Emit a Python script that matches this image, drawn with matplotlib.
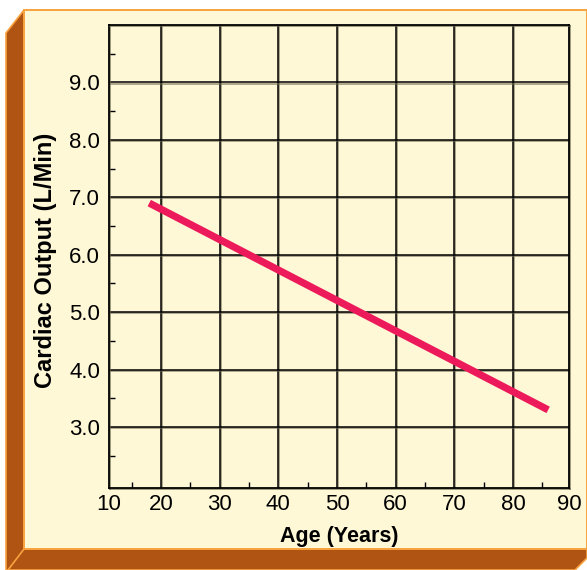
import matplotlib
matplotlib.use("Agg")
import matplotlib.pyplot as plt
from matplotlib.patches import Polygon, Rectangle
from matplotlib.lines import Line2D
import matplotlib.patheffects as pe

# ---- data ----
age = [18, 86]
cardiac_output = [6.9, 3.3]

x_tick_pos = [11.14, 20, 30, 40, 50, 60, 70, 80, 89.55]
x_tick_labels = ["10", "20", "30", "40", "50", "60", "70", "80", "90"]
y_tick_pos = [3, 4, 5, 6, 7, 8, 9]
y_tick_labels = ["3.0", "4.0", "5.0", "6.0", "7.0", "8.0", "9.0"]
x_minor = [15, 25, 35, 45, 55, 65, 75, 85]
y_minor = [2.5, 3.5, 4.5, 5.5, 6.5, 7.5, 8.5, 9.5]

W, H = 587, 570
CREAM = "#FEF8D6"
BROWN = "#B05414"
ORANGE = "#F7A23E"

plt.rcParams['font.family'] = ['Liberation Sans', 'DejaVu Sans']

fig = plt.figure(figsize=(W / 100, H / 100), dpi=100)
fig.patch.set_facecolor("white")


def P(px, py):
    return (px / W, (H - py) / H)


# brown 3D frame (left + bottom faces)
frame = Polygon([P(6, 33), P(24, 10), P(24, 549), P(587, 549), P(587, 558),
                 P(575, 570), P(6, 570)], closed=True,
                transform=fig.transFigure, facecolor=BROWN, edgecolor=ORANGE,
                linewidth=1.2, zorder=-3)
fig.patches.append(frame)
# bevel line
fig.lines.append(Line2D([24 / W, 8 / W], [(H - 549) / H, (H - 570) / H],
                        transform=fig.transFigure, color=ORANGE, lw=1.2, zorder=-2))
# cream panel
panel = Rectangle(P(24, 549), (587 - 24) / W, (549 - 10) / H,
                  transform=fig.transFigure, facecolor=CREAM, edgecolor=ORANGE,
                  linewidth=1.4, zorder=-1)
fig.patches.append(panel)

ax = fig.add_axes([109 / W, (H - 488) / H, 460 / W, 463 / H])
ax.set_facecolor(CREAM)
ax.set_xlim(11.14, 89.55)
ax.set_ylim(1.94, 10.0)

shadow = [pe.SimpleLineShadow(offset=(0.8, -0.8), shadow_color="#6b6650", alpha=0.7), pe.Normal()]

# grid lines
for gx in x_tick_pos[1:-1]:
    ax.axvline(gx, color="black", lw=1.1, zorder=1, path_effects=shadow)
for gy in y_tick_pos:
    ax.axhline(gy, color="black", lw=1.1, zorder=1, path_effects=shadow)

ax.plot(age, cardiac_output, color="#EC1A5A", lw=5.2, solid_capstyle="butt", zorder=3)

ax.set_xticks(x_tick_pos)
ax.set_xticklabels(x_tick_labels, fontsize=16)
ax.set_yticks(y_tick_pos)
ax.set_yticklabels(y_tick_labels, fontsize=16)
ax.set_xticks(x_minor, minor=True)
ax.set_yticks(y_minor, minor=True)

ax.tick_params(which="major", length=0, colors="black")
ax.tick_params(axis="x", which="major", pad=4)
ax.tick_params(axis="y", which="major", pad=6.5)
ax.tick_params(which="minor", direction="in", length=4.5, width=1.0, color="black")

for s in ax.spines.values():
    s.set_linewidth(1.3)
    s.set_color("black")
    s.set_path_effects(shadow)

ax.set_xlabel("Age (Years)", fontsize=15.5, fontweight="bold", labelpad=8)
ax.set_ylabel("Cardiac Output (L/Min)", fontsize=17, fontweight="bold")
ax.yaxis.set_label_coords(-0.113, 0.492)

fig.savefig("out.png", dpi=100, facecolor=fig.get_facecolor())
